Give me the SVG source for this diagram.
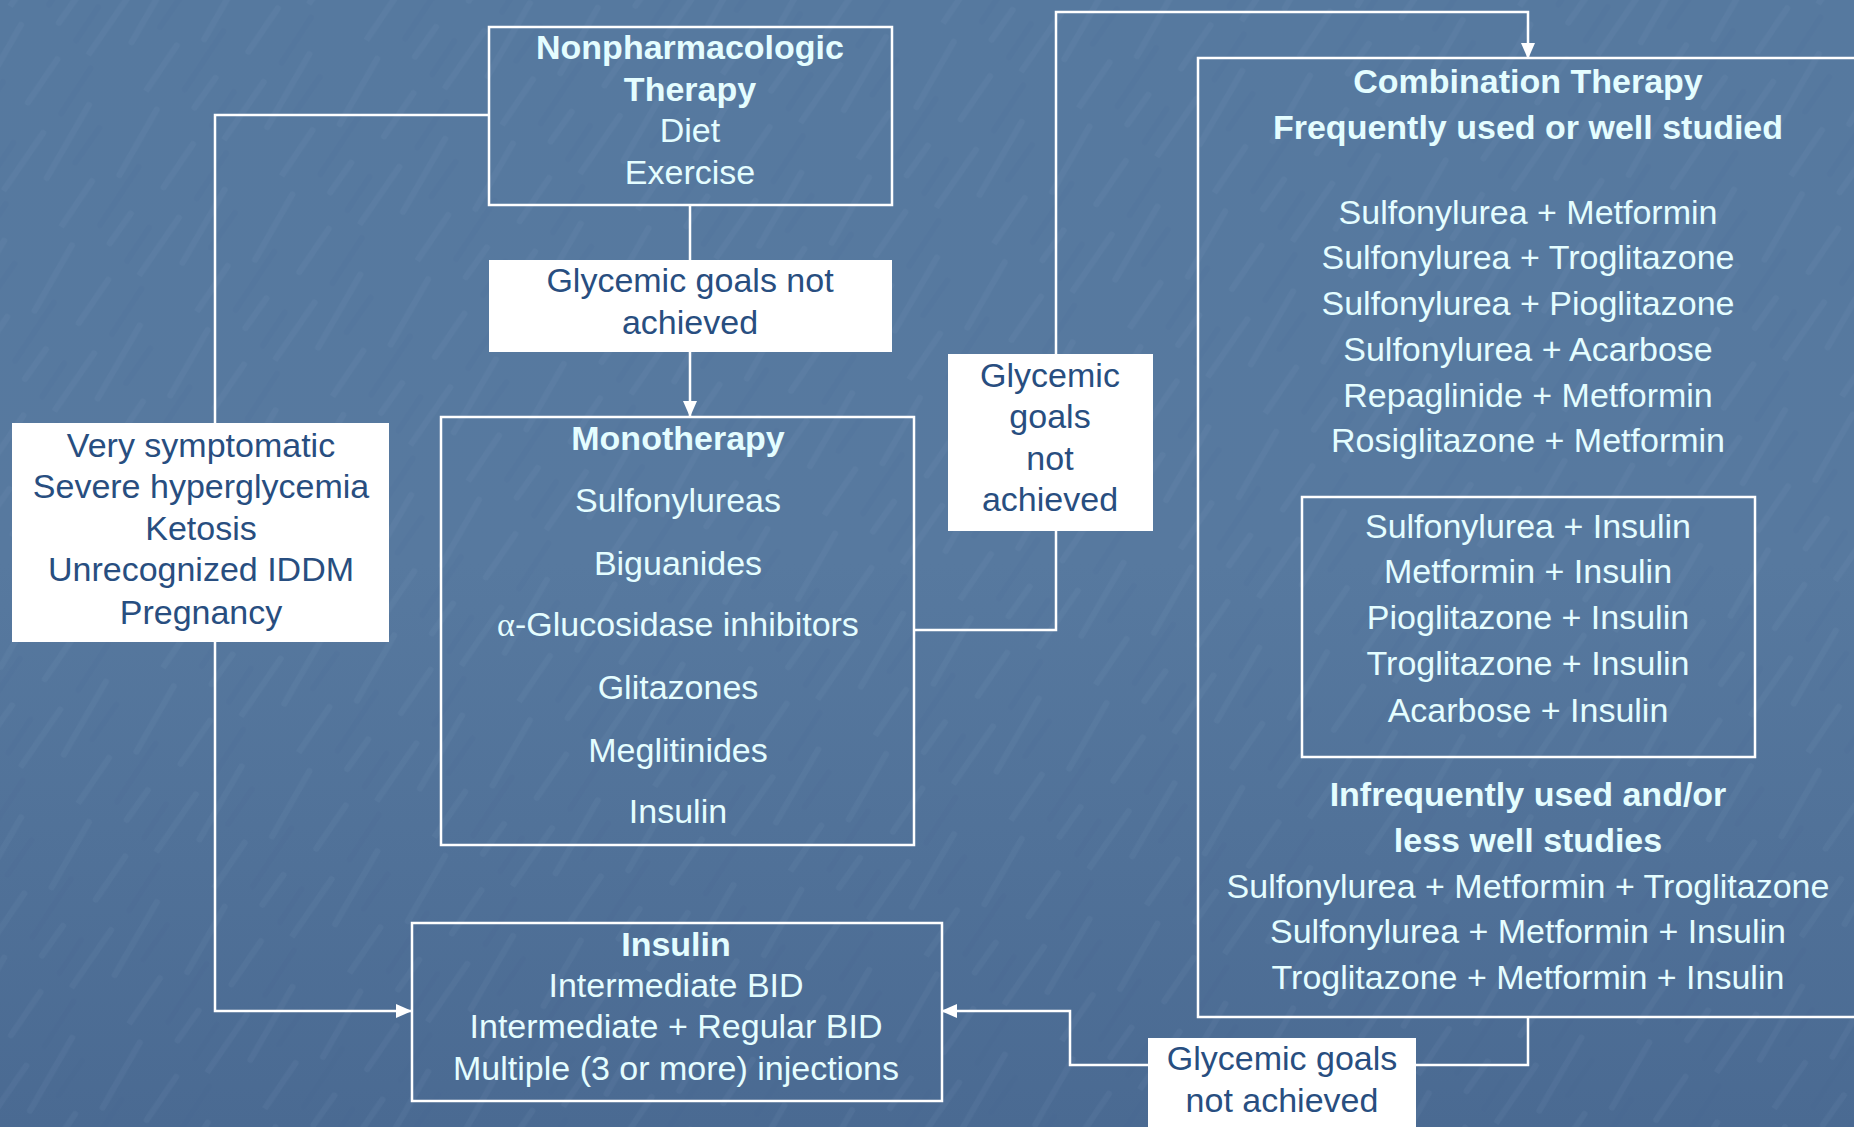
<svg xmlns="http://www.w3.org/2000/svg" width="1854" height="1127" viewBox="0 0 1854 1127">
<defs>
<linearGradient id="bg" x1="0" y1="0" x2="0" y2="1">
<stop offset="0" stop-color="#56799f"/>
<stop offset="0.5" stop-color="#57799f"/>
<stop offset="1" stop-color="#4a6a92"/>
</linearGradient>
<pattern id="tex" width="160" height="160" patternUnits="userSpaceOnUse" patternTransform="rotate(-58)">
<g stroke="#9ab8da" stroke-opacity="0.07" stroke-width="6" stroke-linecap="round" fill="none">
<path d="M0 12 L55 14 M75 34 L150 31 M12 62 L48 64 M88 78 L140 80 M2 104 L70 107 M34 134 L118 131"/>
</g>
<g stroke="#3b5c85" stroke-opacity="0.08" stroke-width="6" stroke-linecap="round" fill="none">
<path d="M22 44 L92 46 M6 86 L46 87 M96 112 L150 113 M62 150 L104 152"/>
</g>
</pattern>
<marker id="arr" markerWidth="16" markerHeight="14" refX="15" refY="7" orient="auto" markerUnits="userSpaceOnUse">
<path d="M0 0 L16 7 L0 14 Z" fill="#ffffff"/>
</marker>
<style>
.box{fill:none;stroke:#ffffff;stroke-width:2.5}
.wbox{fill:#ffffff;stroke:none}
.lt{font-family:"Liberation Sans",Arial,sans-serif;font-size:34px;fill:#e4fdff;text-anchor:middle}
.b{font-weight:bold}
.dk{font-family:"Liberation Sans",Arial,sans-serif;font-size:34px;fill:#284e80;text-anchor:middle}
.ln{fill:none;stroke:#ffffff;stroke-width:2.5}
</style>
</defs>
<rect width="1854" height="1127" fill="url(#bg)"/>
<rect width="1854" height="1127" fill="url(#tex)"/>

<g id="connectors">
<path class="ln" d="M690 205 L690 260"/>
<path class="ln" d="M690 352 L690 416" marker-end="url(#arr)"/>
<path class="ln" d="M488 115 L215 115 L215 423"/>
<path class="ln" d="M215 642 L215 1011 L411 1011" marker-end="url(#arr)"/>
<path class="ln" d="M914 630 L1056 630 L1056 531"/>
<path class="ln" d="M1056 354 L1056 12 L1528 12 L1528 58" marker-end="url(#arr)"/>
<path class="ln" d="M1528 1017 L1528 1065 L1416 1065"/>
<path class="ln" d="M1148 1065 L1070 1065 L1070 1011 L942 1011" marker-end="url(#arr)"/>
</g>

<g id="nonpharm">
<rect class="box" x="489" y="27" width="403" height="178"/>
<text class="lt b" x="690" y="59">Nonpharmacologic</text>
<text class="lt b" x="690" y="101">Therapy</text>
<text class="lt" x="690" y="142">Diet</text>
<text class="lt" x="690" y="184">Exercise</text>
</g>

<g id="glycemic1">
<rect class="wbox" x="489" y="260" width="403" height="92"/>
<text class="dk" x="690" y="292">Glycemic goals not</text>
<text class="dk" x="690" y="334">achieved</text>
</g>

<g id="monotherapy">
<rect class="box" x="441" y="417" width="473" height="428"/>
<text class="lt b" x="678" y="450">Monotherapy</text>
<text class="lt" x="678" y="512">Sulfonylureas</text>
<text class="lt" x="678" y="575">Biguanides</text>
<text class="lt" x="678" y="636"><tspan font-family="Liberation Serif,serif">α</tspan>-Glucosidase inhibitors</text>
<text class="lt" x="678" y="699">Glitazones</text>
<text class="lt" x="678" y="762">Meglitinides</text>
<text class="lt" x="678" y="823">Insulin</text>
</g>

<g id="symptomatic">
<rect class="wbox" x="12" y="423" width="377" height="219"/>
<text class="dk" x="201" y="457">Very symptomatic</text>
<text class="dk" x="201" y="498">Severe hyperglycemia</text>
<text class="dk" x="201" y="540">Ketosis</text>
<text class="dk" x="201" y="581">Unrecognized IDDM</text>
<text class="dk" x="201" y="624">Pregnancy</text>
</g>

<g id="insulin">
<rect class="box" x="412" y="923" width="530" height="178"/>
<text class="lt b" x="676" y="956">Insulin</text>
<text class="lt" x="676" y="997">Intermediate BID</text>
<text class="lt" x="676" y="1038">Intermediate + Regular BID</text>
<text class="lt" x="676" y="1080">Multiple (3 or more) injections</text>
</g>

<g id="glycemic2">
<rect class="wbox" x="948" y="354" width="205" height="177"/>
<text class="dk" x="1050" y="387">Glycemic</text>
<text class="dk" x="1050" y="428">goals</text>
<text class="dk" x="1050" y="470">not</text>
<text class="dk" x="1050" y="511">achieved</text>
</g>

<g id="combination">
<rect class="box" x="1198" y="58" width="680" height="959"/>
<text class="lt b" x="1528" y="93">Combination Therapy</text>
<text class="lt b" x="1528" y="139">Frequently used or well studied</text>
<text class="lt" x="1528" y="224">Sulfonylurea + Metformin</text>
<text class="lt" x="1528" y="269">Sulfonylurea + Troglitazone</text>
<text class="lt" x="1528" y="315">Sulfonylurea + Pioglitazone</text>
<text class="lt" x="1528" y="361">Sulfonylurea + Acarbose</text>
<text class="lt" x="1528" y="407">Repaglinide + Metformin</text>
<text class="lt" x="1528" y="452">Rosiglitazone + Metformin</text>
<text class="lt b" x="1528" y="806">Infrequently used and/or</text>
<text class="lt b" x="1528" y="852">less well studies</text>
<text class="lt" x="1528" y="898">Sulfonylurea + Metformin + Troglitazone</text>
<text class="lt" x="1528" y="943">Sulfonylurea + Metformin + Insulin</text>
<text class="lt" x="1528" y="989">Troglitazone + Metformin + Insulin</text>
</g>

<g id="insulin-combos">
<rect class="box" x="1302" y="497" width="453" height="260"/>
<text class="lt" x="1528" y="538">Sulfonylurea + Insulin</text>
<text class="lt" x="1528" y="583">Metformin + Insulin</text>
<text class="lt" x="1528" y="629">Pioglitazone + Insulin</text>
<text class="lt" x="1528" y="675">Troglitazone + Insulin</text>
<text class="lt" x="1528" y="722">Acarbose + Insulin</text>
</g>

<g id="glycemic3">
<rect class="wbox" x="1148" y="1038" width="268" height="95"/>
<text class="dk" x="1282" y="1070">Glycemic goals</text>
<text class="dk" x="1282" y="1112">not achieved</text>
</g>
</svg>
